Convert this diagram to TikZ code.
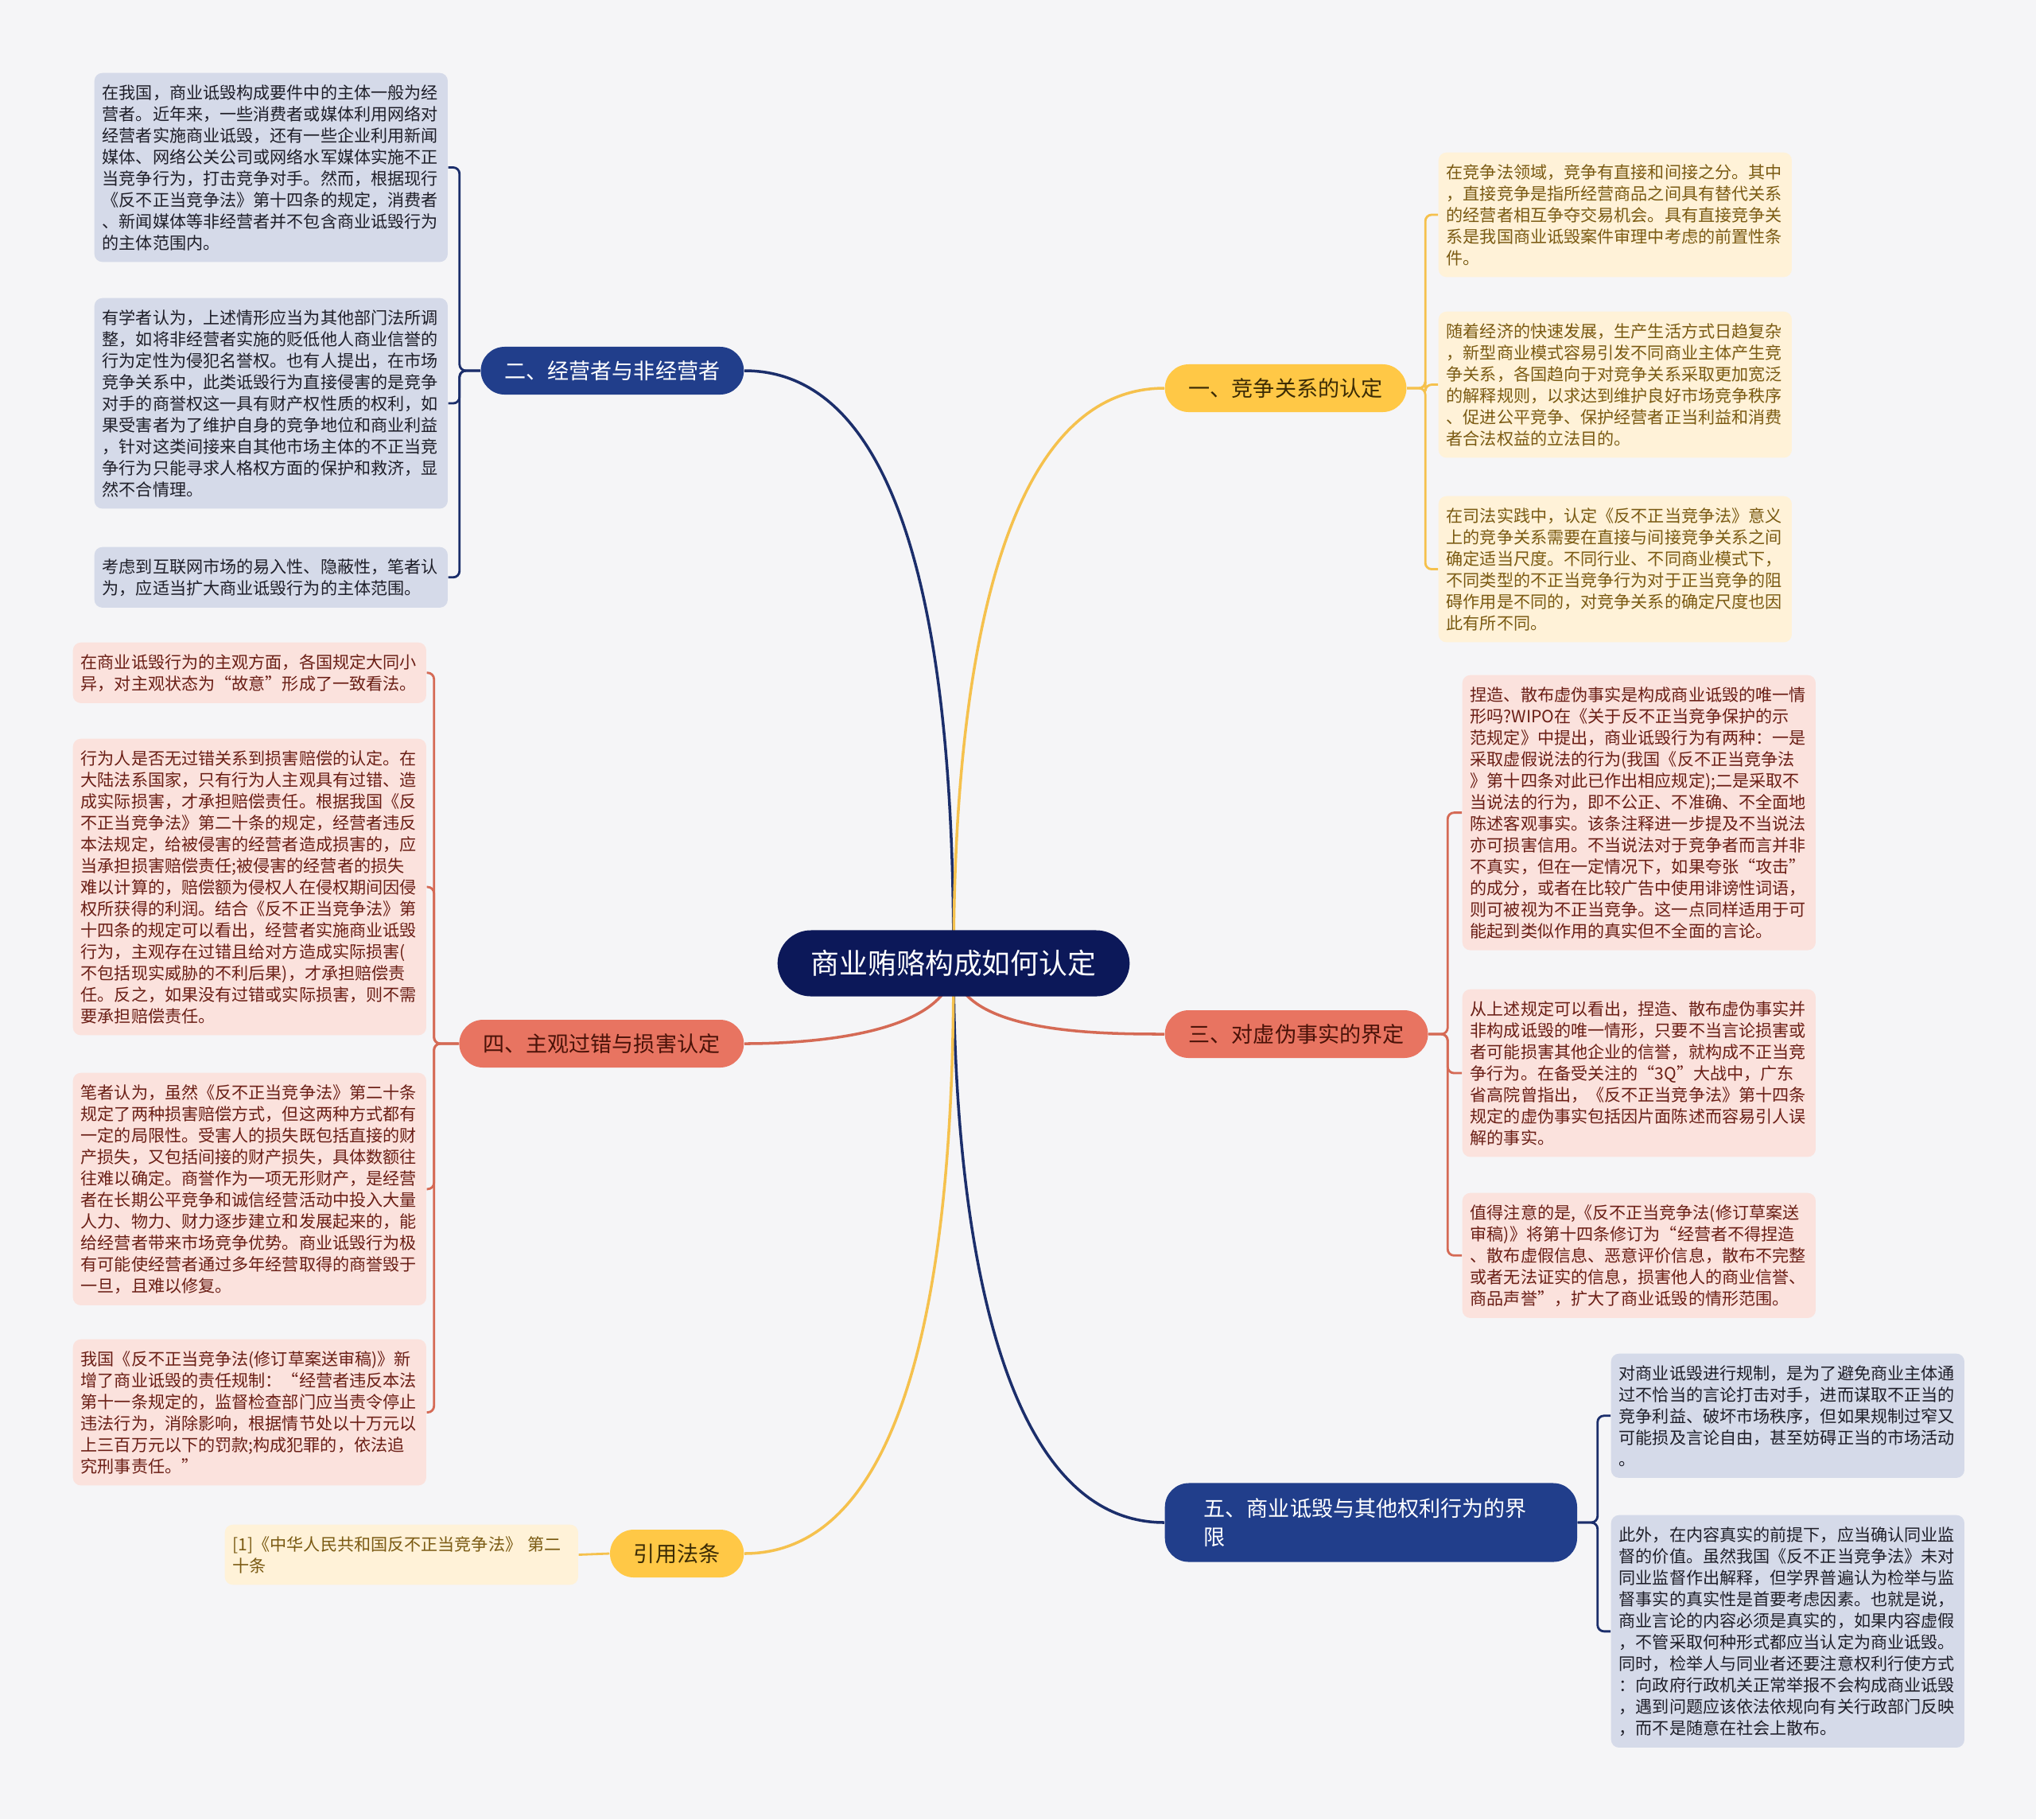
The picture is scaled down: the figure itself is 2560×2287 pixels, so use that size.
\documentclass[tikz,border=0pt]{standalone}
\usepackage{fontspec}
\setmainfont{Noto Sans CJK SC}
\usepackage{tikz}
\usetikzlibrary{positioning,backgrounds}
\usepackage{xcolor}
\setlength{\parindent}{0pt}

\definecolor{bgcol}{HTML}{F5F5F7}
\definecolor{rootcol}{HTML}{0C1859}
\definecolor{navy}{HTML}{213E8B}
\definecolor{navyline}{HTML}{1B2E6B}
\definecolor{yel}{HTML}{FFC846}
\definecolor{yelline}{HTML}{F5C14D}
\definecolor{sal}{HTML}{E87461}
\definecolor{salline}{HTML}{D56A55}
\definecolor{leafblue}{HTML}{D5DAE9}
\definecolor{leafbluetext}{HTML}{1E1E28}
\definecolor{leafyel}{HTML}{FFF2D8}
\definecolor{leafyeltext}{HTML}{7A5A12}
\definecolor{leafpink}{HTML}{FBE2DD}
\definecolor{leafpinktext}{HTML}{6A1E15}
\definecolor{yeltext}{HTML}{3B2B05}
\definecolor{saltext}{HTML}{4A1208}

\begin{document}
\begin{tikzpicture}[x=0.01cm, y=-0.01cm,
    leaf/.style={anchor=north west, rectangle, rounded corners=0.1cm, text width=4.24cm, inner xsep=0.1cm, inner ysep=0.145cm, align=left, font=\fontsize{6}{7.68}\selectfont},
    leafb/.style={leaf, fill=leafblue, text=leafbluetext},
    leafy/.style={leaf, fill=leafyel, text=leafyeltext},
    leafp/.style={leaf, fill=leafpink, text=leafpinktext},
    branch/.style={rectangle, rounded corners=0.3cm, minimum height=0.6cm, inner xsep=0.3cm, font=\fontsize{7.7}{10.24}\selectfont},
    link/.style={line width=1pt},
    tie/.style={line width=0.8pt, rounded corners=0.08cm}]
    \useasboundingbox (0,0) rectangle (2560,2287);

    \node[rectangle, rounded corners=0.42cm, fill=rootcol, text=white, minimum height=0.83cm, inner xsep=0.42cm, font=\fontsize{10.2}{12}\selectfont] (root) at (1199,1211) {商业贿赂构成如何认定};

    \node[branch, fill=navy, text=white, anchor=east] (b2) at (936,466) {二、经营者与非经营者};
    \node[branch, fill=yel, text=yeltext, anchor=west] (b1) at (1464,488) {一、竞争关系的认定};
    \node[branch, fill=sal, text=saltext, anchor=west] (b3) at (1464,1300) {三、对虚伪事实的界定};
    \node[branch, fill=sal, text=saltext, anchor=east] (b4) at (936,1312) {四、主观过错与损害认定};
    \node[branch, fill=navy, text=white, anchor=west, text width=4.2cm, inner xsep=0.49cm, align=left, minimum height=0.99cm] (b5) at (1464,1914) {五、商业诋毁与其他权利行为的界\\限};
    \node[branch, fill=yel, text=yeltext, anchor=east] (b6) at (936,1953) {引用法条};

    \node[leafb] (l21) at (118,91) {在我国，商业诋毁构成要件中的主体一般为经\\营者。近年来，一些消费者或媒体利用网络对\\经营者实施商业诋毁，还有一些企业利用新闻\\媒体、网络公关公司或网络水军媒体实施不正\\当竞争行为，打击竞争对手。然而，根据现行\\《反不正当竞争法》第十四条的规定，消费者\\、新闻媒体等非经营者并不包含商业诋毁行为\\的主体范围内。};
    \node[leafb] (l22) at (118,374) {有学者认为，上述情形应当为其他部门法所调\\整，如将非经营者实施的贬低他人商业信誉的\\行为定性为侵犯名誉权。也有人提出，在市场\\竞争关系中，此类诋毁行为直接侵害的是竞争\\对手的商誉权这一具有财产权性质的权利，如\\果受害者为了维护自身的竞争地位和商业利益\\，针对这类间接来自其他市场主体的不正当竞\\争行为只能寻求人格权方面的保护和救济，显\\然不合情理。};
    \node[leafb] (l23) at (118,687) {考虑到互联网市场的易入性、隐蔽性，笔者认\\为，应适当扩大商业诋毁行为的主体范围。};

    \node[leafy] (l11) at (1808,191) {在竞争法领域，竞争有直接和间接之分。其中\\，直接竞争是指所经营商品之间具有替代关系\\的经营者相互争夺交易机会。具有直接竞争关\\系是我国商业诋毁案件审理中考虑的前置性条\\件。};
    \node[leafy] (l12) at (1808,391) {随着经济的快速发展，生产生活方式日趋复杂\\，新型商业模式容易引发不同商业主体产生竞\\争关系，各国趋向于对竞争关系采取更加宽泛\\的解释规则，以求达到维护良好市场竞争秩序\\、促进公平竞争、保护经营者正当利益和消费\\者合法权益的立法目的。};
    \node[leafy] (l13) at (1808,623) {在司法实践中，认定《反不正当竞争法》意义\\上的竞争关系需要在直接与间接竞争关系之间\\确定适当尺度。不同行业、不同商业模式下，\\不同类型的不正当竞争行为对于正当竞争的阻\\碍作用是不同的，对竞争关系的确定尺度也因\\此有所不同。};

    \node[leafp] (l31) at (1838,848) {捏造、散布虚伪事实是构成商业诋毁的唯一情\\形吗?WIPO在《关于反不正当竞争保护的示\\范规定》中提出，商业诋毁行为有两种：一是\\采取虚假说法的行为(我国《反不正当竞争法\\》第十四条对此已作出相应规定);二是采取不\\当说法的行为，即不公正、不准确、不全面地\\陈述客观事实。该条注释进一步提及不当说法\\亦可损害信用。不当说法对于竞争者而言并非\\不真实，但在一定情况下，如果夸张“攻击”\\的成分，或者在比较广告中使用诽谤性词语，\\则可被视为不正当竞争。这一点同样适用于可\\能起到类似作用的真实但不全面的言论。};
    \node[leafp] (l32) at (1838,1243) {从上述规定可以看出，捏造、散布虚伪事实并\\非构成诋毁的唯一情形，只要不当言论损害或\\者可能损害其他企业的信誉，就构成不正当竞\\争行为。在备受关注的“3Q”大战中，广东\\省高院曾指出，《反不正当竞争法》第十四条\\规定的虚伪事实包括因片面陈述而容易引人误\\解的事实。};
    \node[leafp] (l33) at (1838,1499) {值得注意的是,《反不正当竞争法(修订草案送\\审稿)》将第十四条修订为“经营者不得捏造\\、散布虚假信息、恶意评价信息，散布不完整\\或者无法证实的信息，损害他人的商业信誉、\\商品声誉”，扩大了商业诋毁的情形范围。};

    \node[leafp] (l41) at (91,807) {在商业诋毁行为的主观方面，各国规定大同小\\异，对主观状态为“故意”形成了一致看法。};
    \node[leafp] (l42) at (91,928) {行为人是否无过错关系到损害赔偿的认定。在\\大陆法系国家，只有行为人主观具有过错、造\\成实际损害，才承担赔偿责任。根据我国《反\\不正当竞争法》第二十条的规定，经营者违反\\本法规定，给被侵害的经营者造成损害的，应\\当承担损害赔偿责任;被侵害的经营者的损失\\难以计算的，赔偿额为侵权人在侵权期间因侵\\权所获得的利润。结合《反不正当竞争法》第\\十四条的规定可以看出，经营者实施商业诋毁\\行为，主观存在过错且给对方造成实际损害(\\不包括现实威胁的不利后果)，才承担赔偿责\\任。反之，如果没有过错或实际损害，则不需\\要承担赔偿责任。};
    \node[leafp] (l43) at (91,1348) {笔者认为，虽然《反不正当竞争法》第二十条\\规定了两种损害赔偿方式，但这两种方式都有\\一定的局限性。受害人的损失既包括直接的财\\产损失，又包括间接的财产损失，具体数额往\\往难以确定。商誉作为一项无形财产，是经营\\者在长期公平竞争和诚信经营活动中投入大量\\人力、物力、财力逐步建立和发展起来的，能\\给经营者带来市场竞争优势。商业诋毁行为极\\有可能使经营者通过多年经营取得的商誉毁于\\一旦，且难以修复。};
    \node[leafp] (l44) at (91,1683) {我国《反不正当竞争法(修订草案送审稿)》新\\增了商业诋毁的责任规制：“经营者违反本法\\第十一条规定的，监督检查部门应当责令停止\\违法行为，消除影响，根据情节处以十万元以\\上三百万元以下的罚款;构成犯罪的，依法追\\究刑事责任。”};

    \node[leafb] (l51) at (2025,1701) {对商业诋毁进行规制，是为了避免商业主体通\\过不恰当的言论打击对手，进而谋取不正当的\\竞争利益、破坏市场秩序，但如果规制过窄又\\可能损及言论自由，甚至妨碍正当的市场活动\\。};
    \node[leafb] (l52) at (2025,1904) {此外，在内容真实的前提下，应当确认同业监\\督的价值。虽然我国《反不正当竞争法》未对\\同业监督作出解释，但学界普遍认为检举与监\\督事实的真实性是首要考虑因素。也就是说，\\商业言论的内容必须是真实的，如果内容虚假\\，不管采取何种形式都应当认定为商业诋毁。\\同时，检举人与同业者还要注意权利行使方式\\：向政府行政机关正常举报不会构成商业诋毁\\，遇到问题应该依法依规向有关行政部门反映\\，而不是随意在社会上散布。};

    \node[leafy] (l61) at (282,1916) {[1]《中华人民共和国反不正当竞争法》~第二\\十条};

    \begin{pgfonlayer}{background}
        \fill[bgcol] (0,0) rectangle (2560,2287);
        \draw[link, navyline] (root.center) to[out=90, in=0, looseness=0.8] (b2.east);
        \draw[link, yelline] (root.center) to[out=90, in=180, looseness=0.8] (b1.west);
        \draw[link, salline] (root.center) to[out=-90, in=180, looseness=0.8] (b3.west);
        \draw[link, salline] (root.center) to[out=-90, in=0, looseness=0.8] (b4.east);
        \draw[link, navyline] (root.center) to[out=-90, in=180, looseness=0.8] (b5.west);
        \draw[link, yelline] (root.center) to[out=-90, in=0, looseness=0.8] (b6.east);
    \end{pgfonlayer}

    \foreach \i in {l21,l22,l23}
        \draw[tie, navyline] (b2.west) -- ++(-26,0) |- (\i.east);
    \foreach \i in {l11,l12,l13}
        \draw[tie, yelline] (b1.east) -- ++(23,0) |- (\i.west);
    \foreach \i in {l31,l32,l33}
        \draw[tie, salline] (b3.east) -- ++(24,0) |- (\i.west);
    \foreach \i in {l41,l42,l43,l44}
        \draw[tie, salline] (b4.west) -- ++(-31,0) |- (\i.east);
    \foreach \i in {l51,l52}
        \draw[tie, navyline] (b5.east) -- ++(25,0) |- (\i.west);
    \draw[tie, yelline] (b6.west) -- (l61.east);
\end{tikzpicture}
\end{document}
